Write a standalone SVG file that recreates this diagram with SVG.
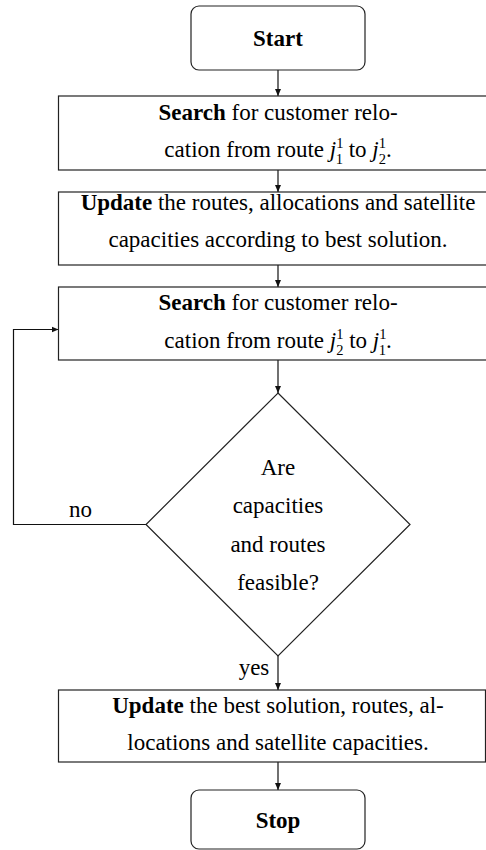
<svg xmlns="http://www.w3.org/2000/svg" width="486" height="850" viewBox="0 0 486 850">
  <defs>
    <marker id="arrow" markerWidth="8" markerHeight="8" refX="7" refY="4" orient="auto" markerUnits="userSpaceOnUse">
      <path d="M0,1 L7,4 L0,7 Z" fill="#111"/>
    </marker>
    <style>
      .box { fill: #fff; stroke: #222; stroke-width: 1.2; }
      .edge { fill: none; stroke: #111; stroke-width: 1.2; }
      .t { font-family: "Liberation Serif", "Times New Roman", serif; font-size: 23px; fill: #000; text-anchor: middle; }
      .b { font-weight: bold; }
      .m { font-style: italic; }
      .s { font-size: 14.5px; }
    </style>
  </defs>
  <rect width="486" height="850" fill="#fff"/>

  <!-- connectors -->
  <g id="connectors">
    <line class="edge" x1="278" y1="70" x2="278" y2="96" marker-end="url(#arrow)"/>
    <line class="edge" x1="278" y1="170" x2="278" y2="192" marker-end="url(#arrow)"/>
    <line class="edge" x1="278" y1="265" x2="278" y2="287" marker-end="url(#arrow)"/>
    <line class="edge" x1="278" y1="360" x2="278" y2="393" marker-end="url(#arrow)"/>
    <line class="edge" x1="278" y1="656" x2="278" y2="690" marker-end="url(#arrow)"/>
    <line class="edge" x1="278" y1="762" x2="278" y2="790" marker-end="url(#arrow)"/>
    <polyline class="edge" points="146,524.5 13.5,524.5 13.5,329.5 58.5,329.5" marker-end="url(#arrow)"/>
    <text class="t" x="80.5" y="517">no</text>
    <text class="t" x="254" y="675">yes</text>
  </g>

  <!-- start terminal -->
  <g id="start">
    <rect class="box" x="191" y="6" width="174" height="64" rx="8"/>
    <text class="t b" x="278" y="46">Start</text>
  </g>

  <!-- first relocation search -->
  <g id="search1">
    <rect class="box" x="58.5" y="96" width="439" height="74"/>
    <text class="t" x="278" y="120"><tspan class="b">Search</tspan> for customer relo-</text>
    <text class="t" x="278" y="157">cation from route <tspan class="m">j</tspan><tspan class="s" dy="-9.5">1</tspan><tspan class="s" dx="-7.25" dy="16">1</tspan><tspan dy="-6.5"> to </tspan><tspan class="m">j</tspan><tspan class="s" dy="-9.5">1</tspan><tspan class="s" dx="-7.25" dy="16">2</tspan><tspan dy="-6.5">.</tspan></text>
  </g>

  <!-- update after first search -->
  <g id="update1">
    <rect class="box" x="58.5" y="192" width="439" height="73"/>
    <text class="t" x="278" y="210"><tspan class="b">Update</tspan> the routes, allocations and satellite</text>
    <text class="t" x="278" y="247">capacities according to best solution.</text>
  </g>

  <!-- second relocation search -->
  <g id="search2">
    <rect class="box" x="58.5" y="287" width="439" height="73"/>
    <text class="t" x="278" y="310"><tspan class="b">Search</tspan> for customer relo-</text>
    <text class="t" x="278" y="348">cation from route <tspan class="m">j</tspan><tspan class="s" dy="-9.5">1</tspan><tspan class="s" dx="-7.25" dy="16">2</tspan><tspan dy="-6.5"> to </tspan><tspan class="m">j</tspan><tspan class="s" dy="-9.5">1</tspan><tspan class="s" dx="-7.25" dy="16">1</tspan><tspan dy="-6.5">.</tspan></text>
  </g>

  <!-- feasibility decision -->
  <g id="decision">
    <polygon class="box" points="278,393 410,524.5 278,656 146,524.5"/>
    <text class="t" x="278" y="475">Are</text>
    <text class="t" x="278" y="513">capacities</text>
    <text class="t" x="278" y="552">and routes</text>
    <text class="t" x="278" y="590">feasible?</text>
  </g>

  <!-- update best solution -->
  <g id="update2">
    <rect class="box" x="58.5" y="690" width="427" height="72"/>
    <text class="t" x="278" y="713"><tspan class="b">Update</tspan> the best solution, routes, al-</text>
    <text class="t" x="278" y="750">locations and satellite capacities.</text>
  </g>

  <!-- stop terminal -->
  <g id="stop">
    <rect class="box" x="191" y="790" width="174" height="59" rx="8"/>
    <text class="t b" x="278" y="828">Stop</text>
  </g>
</svg>
